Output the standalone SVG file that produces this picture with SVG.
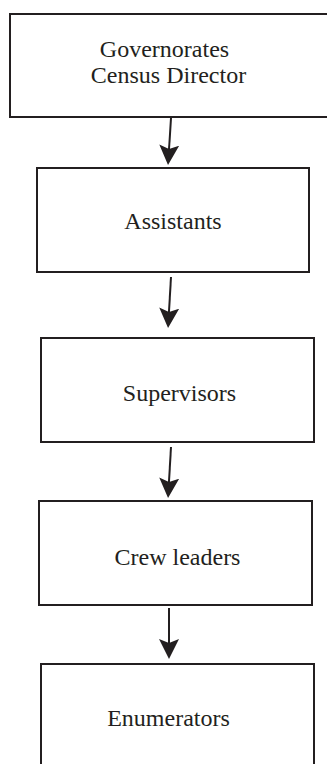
<svg xmlns="http://www.w3.org/2000/svg" width="327" height="764" viewBox="0 0 327 764">
<style>
.box{fill:#fff;stroke:#231f20;stroke-width:2}
.lbl{font-family:"Liberation Serif","Times New Roman",serif;font-size:24px;fill:#231f20;text-anchor:middle}
.conn{stroke:#231f20;stroke-width:2;fill:none;marker-end:url(#ah)}
</style>
<defs>
<marker id="ah" markerUnits="userSpaceOnUse" markerWidth="20" markerHeight="20" viewBox="0 0 20 20" refX="14" refY="10" orient="auto">
<path d="M0,0 L20,10 L0,20 L4,10 z" fill="#231f20"/>
</marker>
</defs>
<rect width="327" height="764" fill="#fff"/>
<g id="n1">
<rect class="box" x="10" y="14" width="330" height="103"/>
<text class="lbl" x="164.5" y="57">Governorates</text>
<text class="lbl" x="168.5" y="83">Census Director</text>
</g>
<g id="n2">
<rect class="box" x="37" y="168" width="272" height="104"/>
<text class="lbl" x="173" y="229">Assistants</text>
</g>
<g id="n3">
<rect class="box" x="41" y="338" width="273" height="104"/>
<text class="lbl" x="179.5" y="401">Supervisors</text>
</g>
<g id="n4">
<rect class="box" x="39" y="501" width="273" height="104"/>
<text class="lbl" x="177.5" y="565">Crew leaders</text>
</g>
<g id="n5">
<rect class="box" x="41" y="664" width="273" height="120"/>
<text class="lbl" x="168.5" y="726">Enumerators</text>
</g>
<g id="connectors">
<line class="conn" x1="171" y1="118" x2="168.4" y2="159"/>
<line class="conn" x1="171" y1="277" x2="168.4" y2="322"/>
<line class="conn" x1="171" y1="447" x2="168.4" y2="492"/>
<line class="conn" x1="169" y1="608" x2="169" y2="653"/>
</g>
</svg>
